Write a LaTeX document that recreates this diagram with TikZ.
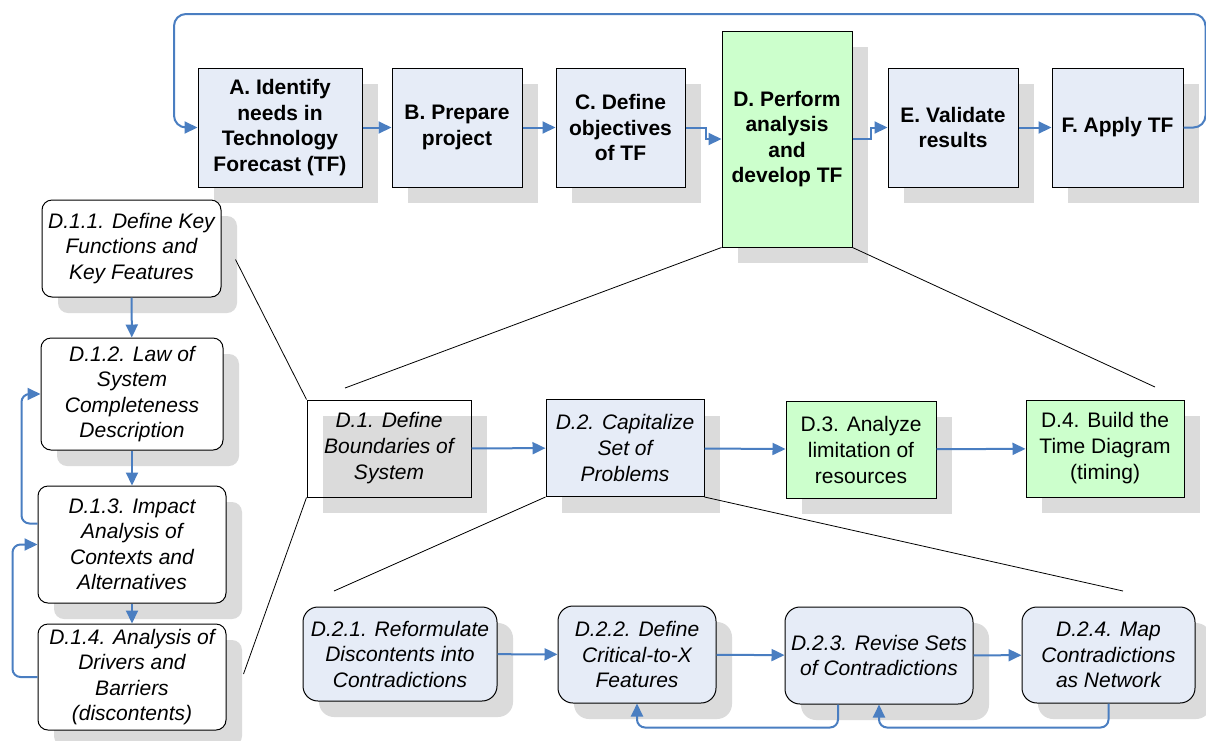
\documentclass[tikz,border=0pt]{standalone}
\usepackage{fontspec}
\setmainfont{Liberation Sans}
\usetikzlibrary{arrows.meta,shadows}
\definecolor{boxblue}{RGB}{230,236,247}
\definecolor{boxgreen}{RGB}{204,255,204}
\definecolor{flowblue}{RGB}{74,126,193}
\begin{document}
\begin{tikzpicture}[x=1pt,y=-1pt,
        every node/.style = {draw, line width=1pt, align=center, inner sep=0pt,
            font=\fontsize{21}{25.5}\selectfont,
            drop shadow={shadow xshift=16pt,shadow yshift=-16pt,fill=black!14,opacity=1}},
        stage/.style = {fill=boxblue, minimum height=119pt,
            font=\fontsize{21}{25.5}\selectfont\bfseries},
        part/.style = {minimum height=97pt, font=\fontsize{21}{26}\selectfont\itshape},
        sub/.style = {rounded corners=10pt, font=\fontsize{21}{25.5}\selectfont\itshape},
        flow/.style = {draw=flowblue, line width=2pt, -{Triangle[length=13pt,width=12pt]}},
        link/.style = {draw=black, line width=0.8pt}]
    \useasboundingbox (0,0) rectangle (1206,740);
    % main process
    \node[stage, minimum width=164pt] (a) at (280,127.5) {A. Identify\\needs in\\Technology\\Forecast (TF)};
    \node[stage, minimum width=130pt] (b) at (457,127.5) {B. Prepare\\project};
    \node[stage, minimum width=129pt] (c) at (620.5,127.5) {C. Define\\objectives\\of TF};
    \node[stage, fill=boxgreen, minimum width=130pt, minimum height=216pt] (d) at (787,139) {D. Perform\\analysis\\and\\develop TF};
    \node[stage, minimum width=130pt] (e) at (953,127.5) {E. Validate\\results};
    \node[stage, minimum width=131pt] (f) at (1117.5,127.5) {F. Apply TF};
    \coordinate (back) at (174,14);
    \draw[flow] (a) -- (b);
    \draw[flow] (b) -- (c);
    \draw[flow] (c.east) -- ++(20,0) |- (d.west);
    \draw[flow] (d.east) -- ++(18,0) |- (e.west);
    \draw[flow] (e) -- (f);
    \draw[flow, rounded corners=12pt] (f.east) -- ++(22,0) |- (back) |- (a.west);
    % D. steps
    \node[part, minimum width=164pt] (d1) at (389,448.5) {D.1. Define\\Boundaries of\\System};
    \node[part, fill=boxblue, minimum width=158pt] (d2) at (625,448) {D.2. Capitalize\\Set of\\Problems};
    \node[part, fill=boxgreen, minimum width=150pt, font=\fontsize{21}{26}\selectfont] (d3) at (861,449.5) {D.3. Analyze\\limitation of\\resources};
    \node[part, fill=boxgreen, minimum width=158pt, font=\fontsize{21}{26}\selectfont] (d4) at (1105,448.5) {D.4. Build the\\Time Diagram\\(timing)};
    \draw[flow] (d1) -- (d2);
    \draw[flow] (d2) -- (d3);
    \draw[flow] (d3) -- (d4);
    \coordinate (dl) at (345,388);
    \coordinate (dr) at (1155,387);
    \draw[link] (d.south west) -- (dl);
    \draw[link] (d.south east) -- (dr);
    % D.1 sub-steps
    \node[sub, fill=white, minimum width=179pt, minimum height=97pt] (d11) at (131.5,248.5) {D.1.1. Define Key\\Functions and\\Key Features};
    \node[sub, fill=white, minimum width=182pt, minimum height=112pt] (d12) at (132,394) {D.1.2. Law of\\System\\Completeness\\Description};
    \node[sub, fill=white, minimum width=188pt, minimum height=117pt] (d13) at (132,544.5) {D.1.3. Impact\\Analysis of\\Contexts and\\Alternatives};
    \node[sub, fill=white, minimum width=188pt, minimum height=106pt] (d14) at (132,677) {D.1.4. Analysis of\\Drivers and\\Barriers\\(discontents)};
    \draw[flow] (d11) -- (d12);
    \draw[flow] (d12) -- (d13);
    \draw[flow] (d13) -- (d14);
    \draw[flow, rounded corners=8pt] ([yshift=21pt]d13.west) -- ++(-16,0) |- (d12.west);
    \draw[flow, rounded corners=8pt] (d14.west) -- ++(-25,0) |- (d13.west);
    \draw[link] ([xshift=14pt,yshift=-11pt]d11.east) -- (d1.north west);
    \draw[link] ([xshift=17pt,yshift=3pt]d14.east) -- (d1.south west);
    % D.2 sub-steps
    \node[sub, fill=boxblue, rounded corners=15pt, minimum width=194pt, minimum height=94pt] (d21) at (400,654) {D.2.1. Reformulate\\Discontents into\\Contradictions};
    \node[sub, fill=boxblue, rounded corners=15pt, minimum width=158pt, minimum height=97pt] (d22) at (637,654.5) {D.2.2. Define\\Critical-to-X\\Features};
    \node[sub, fill=boxblue, rounded corners=15pt, minimum width=188pt, minimum height=97pt] (d23) at (879,655.5) {D.2.3. Revise Sets\\of Contradictions};
    \node[sub, fill=boxblue, rounded corners=15pt, minimum width=173pt, minimum height=96pt] (d24) at (1108.5,655) {D.2.4. Map\\Contradictions\\as Network};
    \draw[flow] (d21) -- (d22);
    \draw[flow] (d22) -- (d23);
    \draw[flow] (d23) -- (d24);
    \draw[flow, rounded corners=8pt] ([xshift=-41pt]d23.south) -- ++(0,23) -| (d22.south);
    \draw[flow, rounded corners=8pt] (d24.south) -- ++(0,24) -| (d23.south);
    \coordinate (sl) at (334,591);
    \coordinate (sr) at (1123,591);
    \draw[link] (d2.south west) -- (sl);
    \draw[link] (d2.south east) -- (sr);
\end{tikzpicture}
\end{document}
